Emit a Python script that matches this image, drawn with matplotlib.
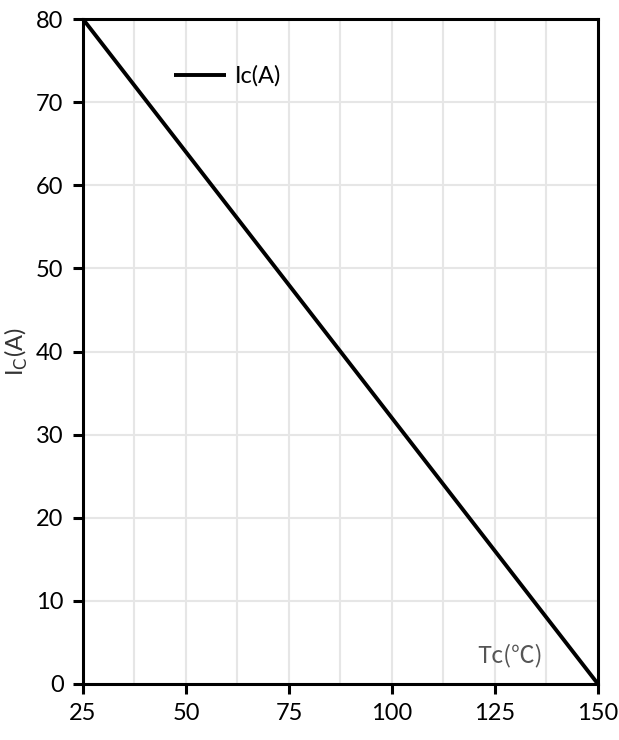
import matplotlib.pyplot as plt
from matplotlib.ticker import MultipleLocator

# ---------------- DATA ----------------
tc = [25, 150]
ic = [80, 0]
x_ticks = [25, 50, 75, 100, 125, 150]
y_ticks = [0, 10, 20, 30, 40, 50, 60, 70, 80]

plt.rcParams['font.family'] = ['Lato', 'DejaVu Sans']

fig = plt.figure(figsize=(6.19, 7.40), dpi=100)
ax = fig.add_axes([0.134, 0.0757, 0.832, 0.8986])

ax.plot(tc, ic, color='black', lw=2.8, label='Ic(A)', solid_capstyle='butt')

ax.set_xlim(25, 150)
ax.set_ylim(0, 80)
ax.set_xticks(x_ticks)
ax.set_yticks(y_ticks)
ax.xaxis.set_minor_locator(MultipleLocator(12.5))
ax.grid(True, which='both', axis='x', color='#e6e6e6', lw=1.5)
ax.grid(True, which='major', axis='y', color='#e6e6e6', lw=1.5)
ax.set_axisbelow(True)

for s in ax.spines.values():
    s.set_linewidth(2.2)
ax.tick_params(which='major', direction='out', length=7, width=2.2, labelsize=17, pad=7)
ax.tick_params(which='minor', length=0)

ax.set_ylabel('I$_\\mathrm{C}$(A)', fontsize=17, color='#333333', labelpad=4)
ax.text(128.6, 2.0, 'Tc(℃)', fontsize=17, color='#555555',
        family=['Noto Sans CJK SC', 'DejaVu Sans'], fontweight='light',
        ha='center', va='bottom')

leg = ax.legend(loc='upper left', bbox_to_anchor=(0.135, 0.962), frameon=False,
                fontsize=17, handlelength=2.2, handletextpad=0.4)

fig.savefig('out.png', dpi=100)
